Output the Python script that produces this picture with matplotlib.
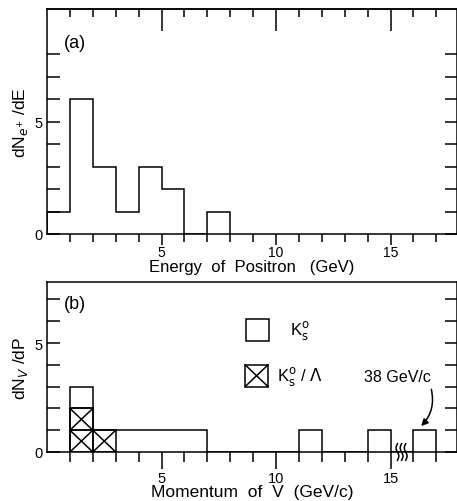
import matplotlib
matplotlib.use("Agg")
import matplotlib.pyplot as plt
import numpy as np
from matplotlib.patches import Rectangle, FancyArrowPatch

plt.rcParams['font.family'] = ['Liberation Sans', 'DejaVu Sans']

# ---- Panel (a): positron energy ----
energy_edges = [0, 1, 2, 3, 4, 5, 6, 7, 8]
energy_counts = [1, 6, 3, 1, 3, 2, 0, 1]

# ---- Panel (b): V momentum ----
mom_edges = [1, 2, 3, 4, 5, 6, 7, 8, 9, 10, 11, 12, 13, 14, 15, 16, 17]
mom_counts = [3, 1, 1, 1, 1, 1, 0, 0, 0, 0, 1, 0, 0, 1, 0, 1]
ambig_counts = [2, 1, 0, 0, 0, 0, 0, 0, 0, 0, 0, 0, 0, 0, 0, 0]   # K0s / Lambda ambiguous

xticks_major = [5, 10, 15]
xtick_labels = ["5", "10", "15"]
yticks_major = [0, 5]

LW = 1.1
fig = plt.figure(figsize=(4.57, 5.02), dpi=100)

# ---------------- panel (a) ----------------
axa = fig.add_axes([47/457, 1-235/502, 410/457, 225/502])
axa.stairs(energy_counts, energy_edges, baseline=0, color='black', lw=LW)
axa.set_xlim(0, 17.9)
axa.set_ylim(0, 10)
axa.set_xticks(xticks_major)
axa.set_xticklabels(xtick_labels)
axa.set_xticks([i for i in range(1, 18) if i not in xticks_major], minor=True)
axa.set_yticks(yticks_major)
axa.set_yticks([1, 2, 3, 4, 6, 7, 8], minor=True)
axa.tick_params(axis='x', which='major', direction='out', length=8, width=LW,
                labelsize=10, pad=0)
axa.tick_params(axis='x', which='minor', direction='out', length=6, width=LW)
axa.tick_params(axis='y', which='both', direction='in', left=True, right=True,
                length=9, width=LW, labelsize=10.5, pad=3)
sec = axa.secondary_xaxis('top')
sec.set_xticks(xticks_major)
sec.set_xticks([i for i in range(1, 18) if i not in xticks_major], minor=True)
sec.tick_params(which='major', direction='in', length=16, width=LW, labeltop=False)
sec.tick_params(which='minor', direction='in', length=6, width=LW)
sec.spines['top'].set_linewidth(LW)
for s in axa.spines.values():
    s.set_linewidth(LW)
axa.set_xlabel("Energy  of  Positron   (GeV)", fontsize=12, labelpad=0)
axa.set_ylabel("dN$_{e^{+}}$ /dE", fontsize=12.5, labelpad=3)
axa.text(1.2, 8.5, "(a)", fontsize=13, ha='center', va='center')

# ---------------- panel (b) ----------------
axb = fig.add_axes([47/457, 1-453/502, 410/457, 170/502])
axb.stairs(mom_counts, mom_edges, baseline=0, color='black', lw=LW)
# crossed cells for ambiguous K0s/Lambda
for i, n in enumerate(ambig_counts):
    x0, x1 = mom_edges[i], mom_edges[i+1]
    for k in range(n):
        axb.add_patch(Rectangle((x0, k), x1-x0, 1, fill=False, ec='black', lw=LW))
        axb.plot([x0, x1], [k, k+1], color='black', lw=LW)
        axb.plot([x0, x1], [k+1, k], color='black', lw=LW)
    if n > 0 and mom_counts[i] > n:
        axb.plot([x0, x1], [n, n], color='black', lw=LW)
axb.set_xlim(0, 17.9)
axb.set_ylim(0, 7.8)
axb.set_xticks(xticks_major)
axb.set_xticklabels(xtick_labels)
axb.set_xticks([i for i in range(1, 18) if i not in xticks_major], minor=True)
axb.set_yticks(yticks_major)
axb.set_yticks([1, 2, 3, 4, 6, 7], minor=True)
axb.tick_params(axis='x', which='major', direction='out', length=12, width=LW,
                labelsize=10.5, pad=2)
axb.tick_params(axis='x', which='minor', direction='out', length=7, width=LW)
axb.tick_params(axis='y', which='both', direction='in', left=True, right=True,
                length=9, width=LW, labelsize=10.5, pad=3)
for s in axb.spines.values():
    s.set_linewidth(LW)
axb.set_xlabel("Momentum  of  V  (GeV/c)", fontsize=12.5, labelpad=-1)
axb.set_ylabel("dN$_{V}$ /dP", fontsize=12.5, labelpad=3)
axb.text(1.2, 6.8, "(b)", fontsize=13, ha='center', va='center')

# legend
axb.add_patch(Rectangle((8.7, 5.1), 1.0, 1.0, fill=False, ec='black', lw=LW))
axb.text(10.6, 5.6, r"K$^{\mathrm{o}}_{\mathrm{s}}$", fontsize=12, va='center')
axb.add_patch(Rectangle((8.65, 3.0), 1.0, 1.0, fill=False, ec='black', lw=LW))
axb.plot([8.65, 9.65], [3.0, 4.0], color='black', lw=LW)
axb.plot([8.65, 9.65], [4.0, 3.0], color='black', lw=LW)
axb.text(10.05, 3.5, r"K$^{\mathrm{o}}_{\mathrm{s}}$ / $\Lambda$", fontsize=12, va='center')

# overflow annotation
axb.text(15.3, 3.45, "38 GeV/c", fontsize=11.5, ha='center', va='center')
arr = FancyArrowPatch((16.75, 3.0), (16.25, 1.1), connectionstyle="arc3,rad=-0.3",
                      arrowstyle='-|>', mutation_scale=10, color='black', lw=LW)
axb.add_patch(arr)

# axis break squiggles
t = np.linspace(-1, 1, 30)
for xc in [15.3, 15.48, 15.66]:
    axb.plot(xc - 0.06*np.sin(t*np.pi), t*0.38, color='black', lw=LW, clip_on=False)

fig.savefig("out.png", dpi=100)
